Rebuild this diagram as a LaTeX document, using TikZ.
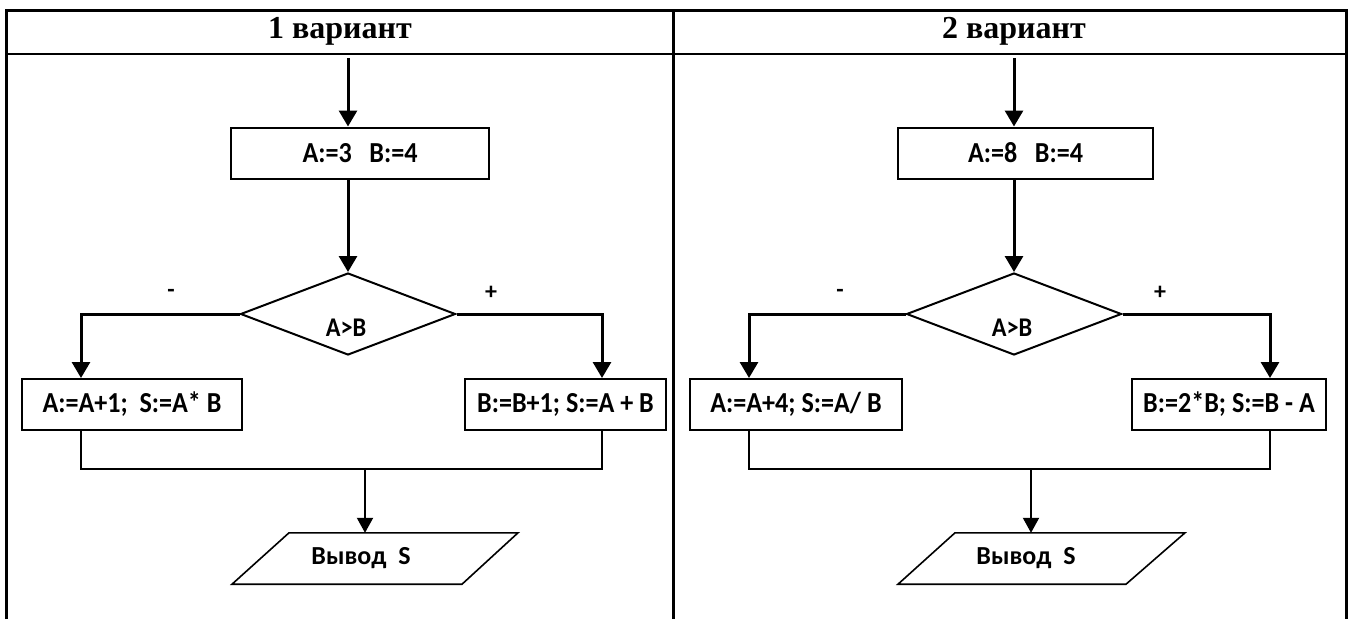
\documentclass[tikz,border=0pt]{standalone}
\usepackage{fontspec}
\setmainfont{Carlito}
\newfontfamily\boxfont{Carlito}[FakeStretch=0.9]
\newfontfamily\titlefont{Liberation Serif}
\usetikzlibrary{shapes.geometric,arrows.meta}

\begin{document}
\begin{tikzpicture}[x=1pt, y=-1pt,
  box/.style={draw, line width=2pt, minimum height=51pt, inner sep=0pt,
    font=\fontsize{29}{33}\boxfont\bfseries},
  cond/.style={draw, diamond, line width=2pt, minimum width=215pt,
    minimum height=82pt, inner sep=0pt},
  condtxt/.style={font=\fontsize{27}{31}\boxfont\bfseries, inner sep=0pt},
  io/.style={minimum height=51pt, inner sep=0pt,
    font=\fontsize{26}{30}\selectfont\bfseries},
  ioline/.style={line width=1.6pt, line join=miter},
  sign/.style={font=\fontsize{24}{28}\selectfont\bfseries},
  title/.style={font=\fontsize{32}{36}\selectfont\titlefont\bfseries},
  arr/.style={line width=3pt, -{Triangle[width=18pt,length=16pt]}},
  thinarr/.style={line width=2pt, -{Triangle[width=16pt,length=15pt]}},
  mergeline/.style={line width=2pt}]
  \useasboundingbox (0,0) rectangle (1351,619);

  % frame
  \draw[line width=3pt] (6,619) -- (6,10) -- (1346,10) -- (1346,619);
  \draw[line width=2pt] (6,54) -- (1346,54);
  \draw[line width=3pt] (673,10) -- (673,619);
  \node[title] (title1) at (340,31) {1 вариант};
  \node[title] (title2) at (1014,31) {2 вариант};

  % variant 1
  \coordinate (start1) at (348,58);
  \node[box, minimum width=258pt] (init1) at (360,153) {A:=3\ \ \ B:=4};
  \node[cond] (cond1) at (348,314) {};
  \node[condtxt] (cond1txt) at (346,328) {A>B};
  \node[sign] (no1sign) at (171,293) {-};
  \node[sign] (yes1sign) at (491,293) {+};
  \node[box, minimum width=220pt] (no1) at (132,404.5) {A:=A+1;\ \ S:=A* B};
  \node[box, minimum width=201pt] (yes1) at (565.5,404.5) {B:=B+1; S:=A + B};
  \coordinate (merge1) at (365,469);
  \node[io] (out1) at (361,558.5) {Вывод\ \ S};
  \draw[ioline] ([xshift=-129pt]out1.south) -- ([xshift=-72pt]out1.north)
    -- ([xshift=157pt]out1.north) -- ([xshift=101pt]out1.south) -- cycle;

  \draw[arr] (start1) -- (start1 |- init1.north);
  \draw[arr] (init1.south -| cond1.north) -- (cond1.north);
  \draw[arr] (cond1.west) -| ([xshift=-51pt]no1.north);
  \draw[arr] (cond1.east) -| ([xshift=36.5pt]yes1.north);
  \draw[mergeline] ([xshift=-51pt]no1.south) |- (merge1) -| ([xshift=36.5pt]yes1.south);
  \draw[thinarr] (merge1) -- (merge1 |- out1.north);

  % variant 2
  \coordinate (start2) at (1014,58);
  \node[box, minimum width=255pt] (init2) at (1025.5,153) {A:=8\ \ \ B:=4};
  \node[cond] (cond2) at (1014,314) {};
  \node[condtxt] (cond2txt) at (1012,328) {A>B};
  \node[sign] (no2sign) at (840,293) {-};
  \node[sign] (yes2sign) at (1160,293) {+};
  \node[box, minimum width=212pt] (no2) at (796,404.5) {A:=A+4; S:=A/ B};
  \node[box, minimum width=194pt] (yes2) at (1229,404.5) {B:=2*B; S:=B - A};
  \coordinate (merge2) at (1031,469);
  \node[io] (out2) at (1026,558.5) {Вывод\ \ S};
  \draw[ioline] ([xshift=-128pt]out2.south) -- ([xshift=-71pt]out2.north)
    -- ([xshift=159pt]out2.north) -- ([xshift=100pt]out2.south) -- cycle;

  \draw[arr] (start2) -- (start2 |- init2.north);
  \draw[arr] (init2.south -| cond2.north) -- (cond2.north);
  \draw[arr] (cond2.west) -| ([xshift=-47pt]no2.north);
  \draw[arr] (cond2.east) -| ([xshift=41pt]yes2.north);
  \draw[mergeline] ([xshift=-47pt]no2.south) |- (merge2) -| ([xshift=41pt]yes2.south);
  \draw[thinarr] (merge2) -- (merge2 |- out2.north);
\end{tikzpicture}
\end{document}
